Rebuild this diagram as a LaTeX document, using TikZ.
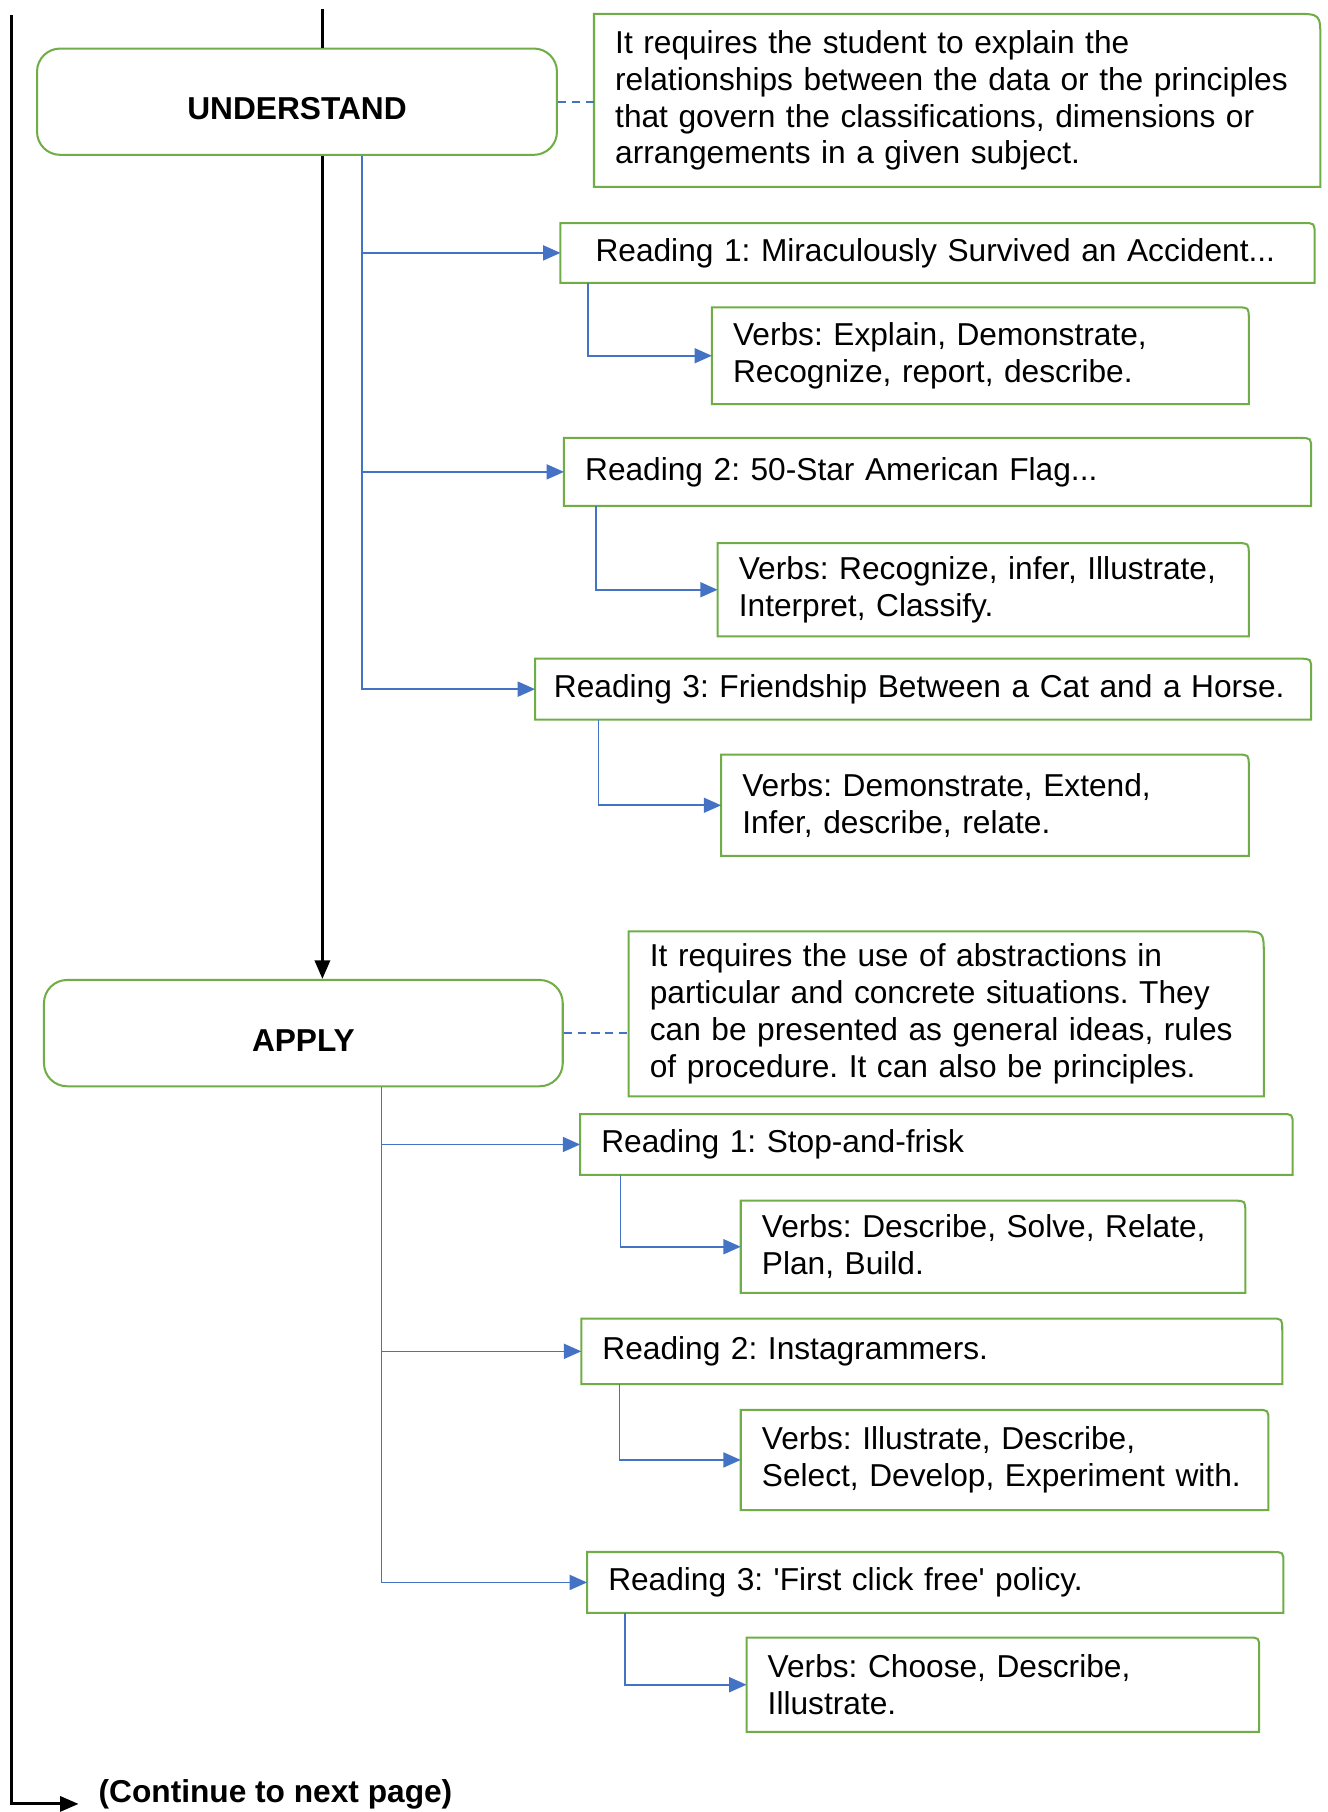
\documentclass[tikz,border=0pt]{standalone}
\usepackage{fontspec}
\setmainfont{Liberation Sans}
\usepackage{tikz}
\usetikzlibrary{arrows.meta}
\definecolor{bgreen}{HTML}{70AD47}
\definecolor{bblue}{HTML}{4472C4}
\newcommand{\bodysize}{\fontsize{15.6pt}{18.2pt}\selectfont}
\frenchspacing
\tikzset{
  lvl/.style={draw=bgreen,line width=1pt,rounded corners=0.4cm,fill=white,
              font=\bodysize\bfseries,minimum width=9cm,minimum height=1.84cm,
              inner sep=0pt,text height=0.63cm,text depth=0pt},   % level box
  leaf/.style={align=left,inner xsep=0.36cm,inner ysep=0pt,anchor=north west}, % border drawn below
  gline/.style={draw=bgreen,line width=1pt},
  link/.style={bblue,line width=0.8pt,-{Triangle[length=0.3cm,width=0.26cm]}},
  note/.style={bblue,line width=0.9pt,dash pattern=on 0.14cm off 0.1cm},
  flow/.style={black,line width=1.5pt,-{Triangle[length=0.32cm,width=0.26cm]}}
}

\begin{document}
\begin{tikzpicture}[x=0.02cm,y=-0.02cm,font=\bodysize]
  \useasboundingbox (0,0) rectangle (1149,1568);

  % UNDERSTAND
  \node[lvl] (und) at (257,88) {UNDERSTAND};
  \node[leaf,text width=11.84cm,minimum height=2.98cm] (d1) at (514,12)
    {It requires the student to explain the\\relationships between the data or the principles\\that govern the classifications, dimensions or\\arrangements in a given subject.};
  \node[leaf,inner xsep=0.6cm,text width=11.84cm,minimum height=1.02cm] (r1) at (485,193)
    {Reading 1: Miraculously Survived an Accident...};
  \node[leaf,text width=8.56cm,minimum height=1.66cm] (v1) at (616,266)
    {Verbs: Explain, Demonstrate,\\Recognize, report, describe.};
  \node[leaf,text width=12.2cm,minimum height=1.16cm] (r2) at (488,379)
    {Reading 2: 50-Star American Flag...};
  \node[leaf,text width=8.46cm,minimum height=1.6cm] (v2) at (621,470)
    {Verbs: Recognize, infer, Illustrate,\\Interpret, Classify.};
  \node[leaf,inner xsep=0.32cm,text width=12.78cm,minimum height=1.04cm] (r3) at (463,570)
    {Reading 3: Friendship Between a Cat and a Horse.};
  \node[leaf,text width=8.4cm,minimum height=1.74cm] (v3) at (624,653)
    {Verbs: Demonstrate, Extend,\\Infer, describe, relate.};

  % APPLY
  \node[lvl,minimum width=8.98cm] (apply) at (262.5,894) {APPLY};
  \node[leaf,text width=10.26cm,minimum height=2.84cm] (d2) at (544,806)
    {It requires the use of abstractions in\\particular and concrete situations. They\\can be presented as general ideas, rules\\of procedure. It can also be principles.};
  \node[leaf,text width=11.6cm,minimum height=1.04cm] (ar1) at (502,964)
    {Reading 1: Stop-and-frisk};
  \node[leaf,text width=8cm,minimum height=1.58cm] (av1) at (641,1039)
    {Verbs: Describe, Solve, Relate,\\Plan, Build.};
  \node[leaf,text width=11.4cm,minimum height=1.12cm] (ar2) at (503,1141)
    {Reading 2: Instagrammers.};
  \node[leaf,text width=8.4cm,minimum height=1.72cm] (av2) at (641,1220)
    {Verbs: Illustrate, Describe,\\Select, Develop, Experiment with.};
  \node[leaf,text width=11.32cm,minimum height=1.04cm] (ar3) at (508,1343)
    {Reading 3: \textquotesingle First click free\textquotesingle\ policy.};
  \node[leaf,text width=8.14cm,minimum height=1.62cm] (av3) at (646,1417)
    {Verbs: Choose, Describe,\\Illustrate.};

  % borders, only the top right corner rounded
  \foreach \b/\r in {d1/0.45cm,r1/0.2cm,v1/0.2cm,r2/0.2cm,v2/0.2cm,r3/0.2cm,v3/0.2cm,
                     d2/0.4cm,ar1/0.2cm,av1/0.2cm,ar2/0.2cm,av2/0.2cm,ar3/0.2cm,av3/0.2cm}
    \draw[gline] (\b.south west) -- (\b.north west) -- ([xshift=-\r]\b.north east)
      .. controls (\b.north east) .. ([yshift=-\r]\b.north east) -- (\b.south east) -- cycle;

  % dashed notes
  \draw[note] (und.east) -- (und.east -| d1.west);
  \draw[note] (apply.east) -- (apply.east -| d2.west);

  % blue branches
  \coordinate (t1) at (313,0);
  \coordinate (t2) at (330,0);
  \foreach \r in {r1,r2,r3} \draw[link] (t1 |- und.south) |- (\r.west);
  \foreach \r in {ar1,ar2,ar3} \draw[link] (t2 |- apply.south) |- (\r.west);
  \draw[link] ([xshift=0.48cm]r1.south west) |- (v1.west);
  \draw[link] ([xshift=0.56cm]r2.south west) |- (v2.west);
  \draw[link] ([xshift=1.1cm]r3.south west) |- (v3.west);
  \draw[link] ([xshift=0.7cm]ar1.south west) |- (av1.west);
  \draw[link] ([xshift=0.66cm]ar2.south west) |- (av2.west);
  \draw[link] ([xshift=0.66cm]ar3.south west) |- (av3.west);

  % black flow
  \coordinate (top) at (279,8);
  \draw[black,line width=1.5pt] (top) -- (top |- und.north);
  \draw[flow] (top |- und.south) -- (top |- apply.north);
  \coordinate (ltop) at (10,13);
  \node[font=\bodysize\bfseries,anchor=west,inner xsep=0.34cm,inner ysep=0pt] (cont) at (68,1553)
    {(Continue to next page)};
  \draw[flow] (ltop) |- ([yshift=-0.16cm]cont.west);
\end{tikzpicture}
\end{document}
